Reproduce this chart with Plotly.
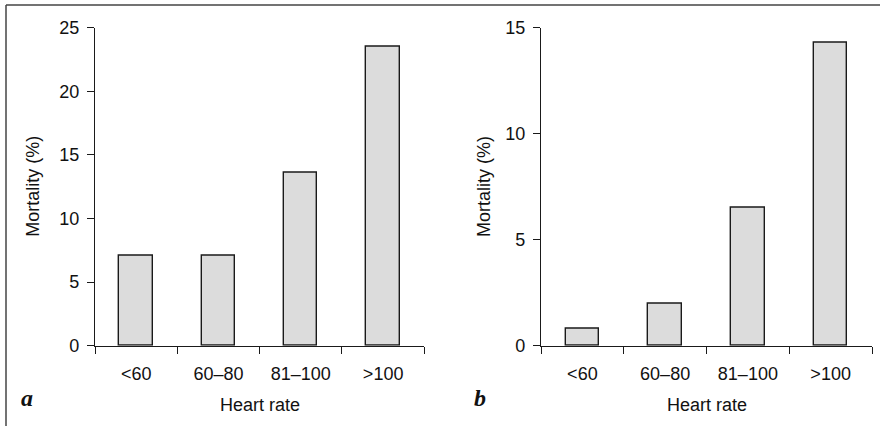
import plotly.graph_objects as go

categories = ["<60", "60–80", "81–100", ">100"]
mortality_a = [7.1, 7.1, 13.6, 23.5]
mortality_b = [0.82, 2.0, 6.5, 14.3]
y_ticks_a = [0, 5, 10, 15, 20, 25]
y_ticks_b = [0, 5, 10, 15]
panel_labels = ["a", "b"]
x_title = "Heart rate"
y_title = "Mortality (%)"

W, H = 880, 426
FONT = "Liberation Sans, Arial, sans-serif"
FS = 18

fig = go.Figure()
bar_style = dict(marker=dict(color="#dcdcdc", line=dict(color="#1a1a1a", width=1.4)),
                 width=0.405, showlegend=False, hoverinfo="skip")
fig.add_trace(go.Bar(x=categories, y=mortality_a, xaxis="x", yaxis="y", **bar_style))
fig.add_trace(go.Bar(x=categories, y=mortality_b, xaxis="x2", yaxis="y2", **bar_style))

y0 = 1 - 345.7 / H
y1 = 1 - 27.7 / H
xa = [95 / W, 424.3 / W]
xb = [541 / W, 872 / W]

common_x = dict(type="category", range=[-0.5, 3.5], showline=True, linecolor="#1a1a1a",
                linewidth=1.3, ticks="outside", ticklen=7, tickwidth=1.3, tickcolor="#1a1a1a",
                tickson="boundaries", showgrid=False, zeroline=False, automargin=False,
                tickfont=dict(family=FONT, size=FS, color="#111"), ticklabelstandoff=12)
common_y = dict(showline=True, linecolor="#1a1a1a", linewidth=1.3, ticks="outside", ticklen=7,
                tickwidth=1.3, tickcolor="#1a1a1a", showgrid=False, zeroline=False, automargin=False,
                tickfont=dict(family=FONT, size=FS, color="#111"), ticklabelstandoff=4)

fig.update_layout(
    template="none",
    width=W, height=H, margin=dict(l=0, r=0, t=0, b=0, pad=0, autoexpand=False),
    paper_bgcolor="white", plot_bgcolor="white", showlegend=False,
    xaxis=dict(domain=xa, anchor="y", **common_x),
    yaxis=dict(domain=[y0, y1], anchor="x", range=[0, 25], tickvals=y_ticks_a, **common_y),
    xaxis2=dict(domain=xb, anchor="y2", **common_x),
    yaxis2=dict(domain=[y0, y1], anchor="x2", range=[0, 15], tickvals=y_ticks_b, **common_y),
    bargap=0,
)

# outer frame (top and left)
fig.add_shape(type="line", xref="paper", yref="paper", x0=6 / W, x1=1, y0=1 - 5 / H, y1=1 - 5 / H,
              line=dict(color="#444", width=1.5))
fig.add_shape(type="line", xref="paper", yref="paper", x0=6 / W, x1=6 / W, y0=0, y1=1 - 5 / H,
              line=dict(color="#444", width=1.5))

ann_font = dict(family=FONT, size=FS, color="#111")
for dom, ytx in ((xa, 33), (xb, 483.3)):
    fig.add_annotation(text=x_title, xref="paper", yref="paper", x=(dom[0] + dom[1]) / 2,
                       y=1 - 405 / H, showarrow=False, font=ann_font, xanchor="center", yanchor="middle")
    fig.add_annotation(text=y_title, xref="paper", yref="paper", x=ytx / W, y=(y0 + y1) / 2,
                       textangle=-90, showarrow=False, font=ann_font, xanchor="center", yanchor="middle")

for lbl, px in zip(panel_labels, (27, 480)):
    fig.add_annotation(text="<b><i>%s</i></b>" % lbl, xref="paper", yref="paper", x=px / W,
                       y=1 - 398 / H, showarrow=False, xanchor="center", yanchor="middle",
                       font=dict(family="Liberation Serif, Times New Roman, serif", size=24, color="#111"))

fig.write_html("out.html")
